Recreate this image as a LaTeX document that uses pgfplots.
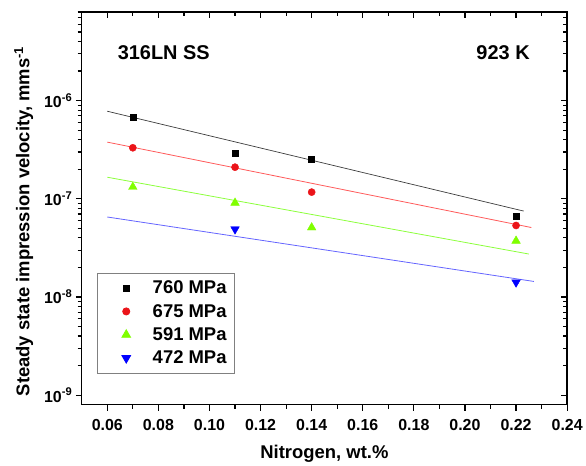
\documentclass[border=0pt]{standalone}
\usepackage{pgfplots}
\pgfplotsset{compat=1.18}
\usepackage{fontspec}
\setmainfont{Liberation Sans}
\definecolor{mred}{RGB}{235,20,25}
\definecolor{mgreen}{RGB}{128,255,0}
\definecolor{mblue}{RGB}{0,0,255}
\definecolor{lred}{RGB}{255,90,90}
\definecolor{lgreen}{RGB}{140,255,60}
\definecolor{lblue}{RGB}{100,100,255}
\definecolor{lblack}{RGB}{60,60,60}
\begin{document}
\begin{tikzpicture}
\begin{axis}[
  scale only axis, width=487pt, height=394pt,
  xmin=0.05, xmax=0.24, ymode=log, ymin=8e-10, ymax=8e-6,
  xtick={0.06,0.08,...,0.241}, minor x tick num=1,
  ytick={1e-9,1e-8,1e-7,1e-6,1e-5},
  axis line style={line width=1.5pt},
  major tick length=6pt, minor tick length=4pt,
  every tick/.style={line width=1.2pt, black},
  tick align=outside, xtick pos=bottom, ytick pos=left,
  /pgf/number format/assume math mode=true,
  xticklabel style={/pgf/number format/.cd,fixed,fixed zerofill,precision=2, /tikz/yshift=-5pt},
  yticklabels={10\textsuperscript{-9},10\textsuperscript{-8},10\textsuperscript{-7},10\textsuperscript{-6},10\textsuperscript{-5}},
  ticklabel style={font=\fontsize{16}{19}\selectfont\bfseries},
  xlabel={Nitrogen, wt.\%},
  ylabel={Steady state impression velocity, mms\textsuperscript{-1}},
  label style={font=\fontsize{18.5}{22}\selectfont\bfseries},
  xlabel style={yshift=-8pt},
  ylabel style={at={(ticklabel cs:0.467,4pt)}},
  legend style={at={(rel axis cs:0.031,0.079)}, anchor=south west, draw=gray, line width=0.8pt,
    font=\fontsize{18.5}{22}\selectfont\bfseries, row sep=5pt, inner xsep=6pt, inner ysep=6pt},
  legend image code/.code={\draw plot coordinates {(0.8cm,0cm)}; \path (0cm,0cm) (1.65cm,0cm);},
  legend cell align=left,
]
\coordinate (ll) at (rel axis cs:0,0);
\coordinate (ur) at (rel axis cs:1,1);
\addplot[lblack, line width=0.7pt, forget plot] coordinates {(0.06,7.8e-7) (0.223,7.5e-8)};
\addplot[lred, line width=0.8pt, forget plot] coordinates {(0.06,3.78e-7) (0.226,5.1e-8)};
\addplot[lgreen, line width=0.8pt, forget plot] coordinates {(0.06,1.66e-7) (0.225,2.74e-8)};
\addplot[lblue, line width=0.8pt, forget plot] coordinates {(0.06,6.53e-8) (0.227,1.44e-8)};
\addplot[only marks, mark=square*, mark size=3pt, black] coordinates {(0.07,6.8e-7) (0.11,2.94e-7) (0.14,2.52e-7) (0.22,6.68e-8)};
\addlegendentry{760 MPa}
\addplot[only marks, mark=*, mark size=3.6pt, mred, mark options={draw=mred,fill=mred}] coordinates {(0.07,3.31e-7) (0.11,2.1e-7) (0.14,1.17e-7) (0.22,5.35e-8)};
\addlegendentry{675 MPa}
\addplot[only marks, mark=triangle*, mark size=5pt, mgreen, mark options={draw=mgreen,fill=mgreen}] coordinates {(0.07,1.32e-7) (0.11,9.1e-8) (0.14,5.1e-8) (0.22,3.73e-8)};
\addlegendentry{591 MPa}
\addplot[only marks, mark=triangle*, mark size=5pt, mblue, mark options={draw=mblue,fill=mblue,rotate=180}] coordinates {(0.11,4.9e-8) (0.22,1.41e-8)};
\addlegendentry{472 MPa}
\node[font=\fontsize{20}{24}\selectfont\bfseries] at (rel axis cs:0.169,0.896) {316LN SS};
\node[font=\fontsize{20}{24}\selectfont\bfseries] at (rel axis cs:0.868,0.896) {923 K};
\end{axis}
\begin{axis}[
  scale only axis, width=487pt, height=394pt,
  xmin=0.05, xmax=0.24, ymode=log, ymin=8e-10, ymax=8e-6,
  xtick={0.06,0.08,...,0.241}, minor x tick num=1,
  ytick={1e-9,1e-8,1e-7,1e-6,1e-5},
  axis line style={line width=1.5pt},
  major tick length=6pt, minor tick length=4pt,
  every tick/.style={line width=1.2pt, black},
  tick align=inside, xtick pos=top, ytick pos=right,
  xticklabels={}, yticklabels={}]
\end{axis}
\path ([shift={(-82pt,-57pt)}]ll) rectangle ([shift={(17pt,12pt)}]ur);
\end{tikzpicture}
\end{document}
